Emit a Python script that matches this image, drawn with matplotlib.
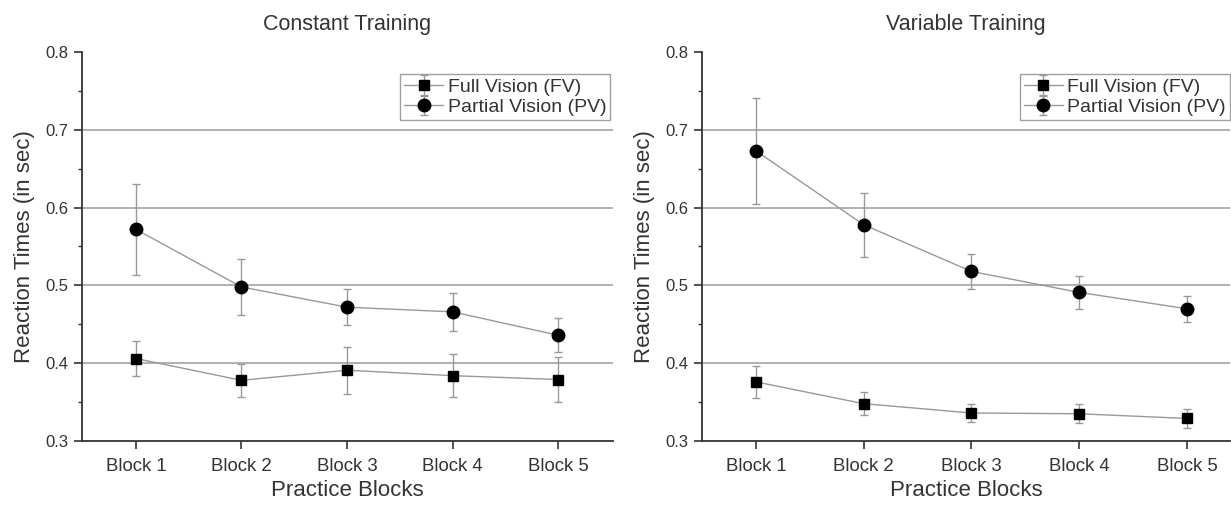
import matplotlib
matplotlib.use("Agg")
import matplotlib.pyplot as plt
from matplotlib.ticker import MultipleLocator

plt.rcParams['font.family'] = ['Liberation Sans', 'DejaVu Sans']

blocks = ["Block 1", "Block 2", "Block 3", "Block 4", "Block 5"]
x = [1, 2, 3, 4, 5]

# Constant Training
const_fv = [0.406, 0.378, 0.391, 0.384, 0.379]
const_fv_err = [0.023, 0.021, 0.030, 0.028, 0.029]
const_pv = [0.572, 0.498, 0.472, 0.466, 0.436]
const_pv_err = [0.058, 0.036, 0.023, 0.024, 0.022]

# Variable Training
var_fv = [0.376, 0.348, 0.336, 0.335, 0.329]
var_fv_err = [0.021, 0.015, 0.011, 0.012, 0.012]
var_pv = [0.673, 0.578, 0.518, 0.491, 0.470]
var_pv_err = [0.068, 0.041, 0.022, 0.021, 0.017]

fig = plt.figure(figsize=(12.31, 5.05), dpi=100)
W, H = 1231, 505
top, bot = 52, 441
ax1 = fig.add_axes([82 / W, 1 - bot / H, (613 - 82) / W, (bot - top) / H])
ax2 = fig.add_axes([702 / W, 1 - bot / H, (1230 - 702) / W, (bot - top) / H])

line_c = '#999999'
txt_c = '#333333'
panels = [
    (ax1, "Constant Training", const_fv, const_fv_err, const_pv, const_pv_err, (0.489, 5.52), (0.995, 0.943)),
    (ax2, "Variable Training", var_fv, var_fv_err, var_pv, var_pv_err, (0.50, 5.40), (1.0, 0.943)),
]
for ax, title, fv, fve, pv, pve, xl, legpos in panels:
    for yv in [0.4, 0.5, 0.6, 0.7]:
        ax.axhline(yv, color='#aaaaaa', lw=1.3, zorder=0)
    ax.errorbar(x, fv, yerr=fve, color=line_c, lw=1.0, marker='s', ms=7.5,
                mfc='black', mec='black', ecolor=line_c, elinewidth=1.0,
                capsize=3, capthick=1.0, label='Full Vision (FV)', zorder=3)
    ax.errorbar(x, pv, yerr=pve, color=line_c, lw=1.0, marker='o', ms=9,
                mfc='black', mec='black', ecolor=line_c, elinewidth=1.0,
                capsize=3, capthick=1.0, label='Partial Vision (PV)', zorder=3)
    ax.set_xlim(*xl)
    ax.set_ylim(0.3, 0.8)
    ax.set_xticks(x)
    ax.set_xticklabels(blocks, fontsize=13.4, color=txt_c)
    ax.yaxis.set_minor_locator(MultipleLocator(0.05))
    ax.set_yticks([0.3, 0.4, 0.5, 0.6, 0.7, 0.8])
    ax.set_yticklabels(['0.3', '0.4', '0.5', '0.6', '0.7', '0.8'], fontsize=12, color=txt_c)
    ax.tick_params(axis='both', which='major', direction='out', length=6, width=1.2, color=txt_c)
    ax.tick_params(axis='x', which='major', pad=6)
    ax.tick_params(axis='y', which='minor', direction='out', length=3, width=1.0, color=txt_c)
    for s in ['top', 'right']:
        ax.spines[s].set_visible(False)
    for s in ['left', 'bottom']:
        ax.spines[s].set_color(txt_c)
        ax.spines[s].set_linewidth(1.3)
    ax.set_title(title, fontsize=15.5, color=txt_c, pad=16)
    ax.set_xlabel("Practice Blocks", fontsize=16, color=txt_c, labelpad=4)
    ax.set_ylabel("Reaction Times (in sec)", fontsize=16, color=txt_c, labelpad=8)
    leg = ax.legend(loc='upper right', bbox_to_anchor=legpos, fontsize=14, frameon=True,
                    fancybox=False, edgecolor='#888888', handlelength=2.0,
                    handletextpad=0.25, borderpad=0.2, labelspacing=0.15, borderaxespad=0.0)
    leg.get_frame().set_linewidth(1.0)
    for t in leg.get_texts():
        t.set_color(txt_c)

fig.savefig("out.png", dpi=100)
